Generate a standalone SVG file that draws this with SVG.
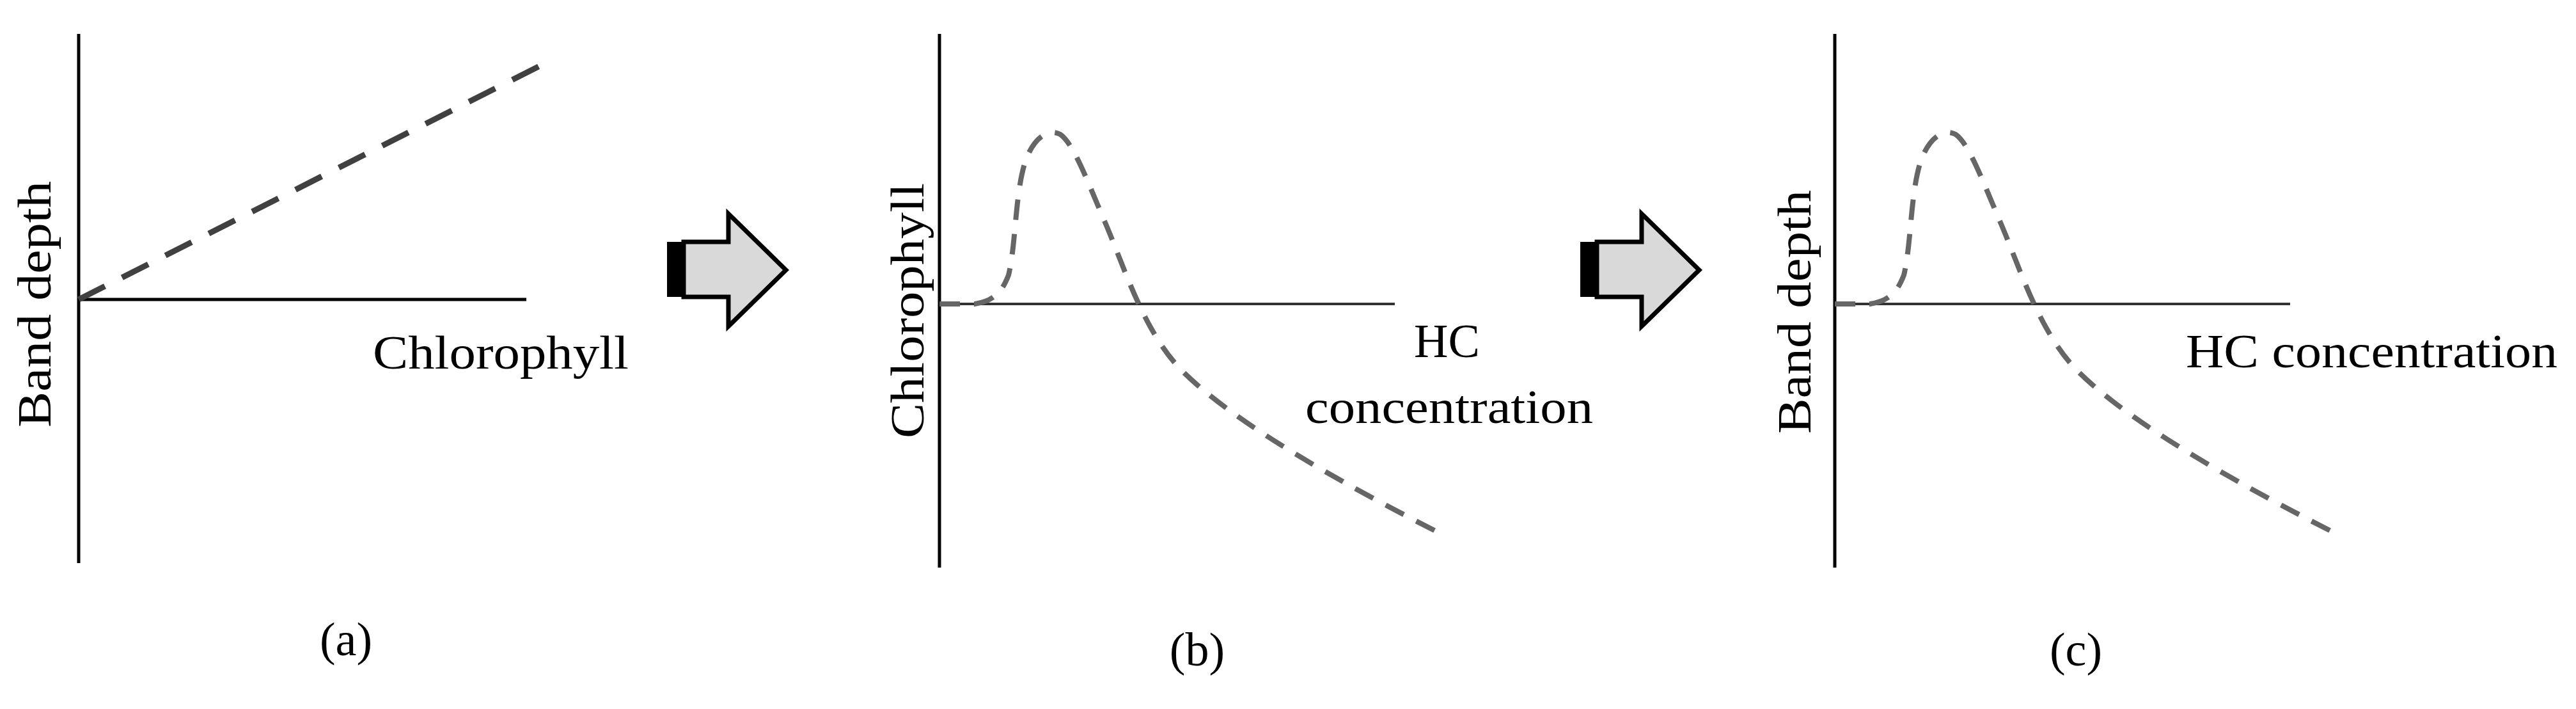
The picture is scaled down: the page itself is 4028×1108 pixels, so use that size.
<svg xmlns="http://www.w3.org/2000/svg" width="4028" height="1108" viewBox="0 0 4028 1108">
<style>
.ax{stroke:#000;stroke-width:5;fill:none}
.ax2{stroke:#333;stroke-width:4;fill:none}
.t{font-family:"Liberation Serif",serif;font-size:74px;fill:#000}
.lin{stroke:#404040;stroke-width:9;stroke-dasharray:46 30;fill:none}
.cur{stroke:#666;stroke-width:8;stroke-dasharray:32 22;fill:none}
.arr{fill:#d9d9d9;stroke:#000;stroke-width:7}
</style>
<defs>
<path id="curve" d="M0,475 L55,475 C90,470 100,450 108,430 C120,380 118,300 135,250 C148,215 170,200 189,210 C210,225 230,280 260,350 C290,420 320,520 380,580 C440,640 560,720 776,830"/>
<g id="arrow">
<rect x="0" y="378" width="26" height="86" fill="#000"/>
<path class="arr" d="M26,378 L96,378 L96,334 L186,422 L96,510 L96,464 L26,464 Z"/>
</g>
</defs>
<g id="panel-a">
<line class="ax" x1="123" y1="53" x2="123" y2="880"/>
<line class="ax" x1="123" y1="468" x2="823" y2="468"/>
<line class="lin" x1="123" y1="468" x2="854" y2="98"/>
<text class="t" x="583" y="576" textLength="400" lengthAdjust="spacingAndGlyphs">Chlorophyll</text>
<text class="t" transform="translate(79,668) rotate(-90)" textLength="385" lengthAdjust="spacingAndGlyphs">Band depth</text>
<text class="t" x="541" y="1024" text-anchor="middle">(a)</text>
</g>
<g id="arrow-1"><use href="#arrow" x="1043"/></g>
<g id="panel-b">
<line class="ax" x1="1469" y1="53" x2="1469" y2="887"/>
<line class="ax2" x1="1469" y1="475" x2="2181" y2="475"/>
<use href="#curve" class="cur" x="1469"/>
<text class="t" transform="translate(1444,685) rotate(-90)" textLength="399" lengthAdjust="spacingAndGlyphs">Chlorophyll</text>
<text class="t" x="2211" y="558">HC</text>
<text class="t" x="2041" y="661" textLength="450" lengthAdjust="spacingAndGlyphs">concentration</text>
<text class="t" x="1872" y="1040" text-anchor="middle">(b)</text>
</g>
<g id="arrow-2"><use href="#arrow" x="2471"/></g>
<g id="panel-c">
<line class="ax" x1="2869" y1="53" x2="2869" y2="887"/>
<line class="ax2" x1="2869" y1="475" x2="3581" y2="475"/>
<use href="#curve" class="cur" x="2869"/>
<text class="t" transform="translate(2831,678) rotate(-90)" textLength="381" lengthAdjust="spacingAndGlyphs">Band depth</text>
<text class="t" x="3418" y="574" textLength="581" lengthAdjust="spacingAndGlyphs">HC concentration</text>
<text class="t" x="3246" y="1040" text-anchor="middle">(c)</text>
</g>
</svg>
